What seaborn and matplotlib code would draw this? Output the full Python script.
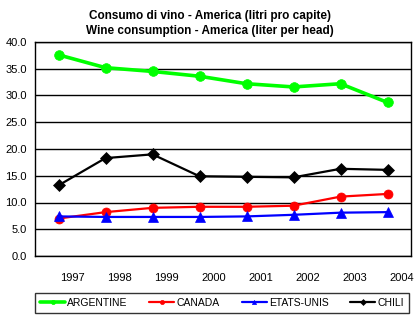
import matplotlib
matplotlib.use("Agg")
import matplotlib.pyplot as plt
import seaborn as sns
import pandas as pd
import numpy as np

years = ["1997", "1998", "1999", "2000", "2001", "2002", "2003", "2004"]
argentine = [37.6, 35.2, 34.5, 33.6, 32.2, 31.6, 32.2, 28.7]
canada = [7.0, 8.2, 9.0, 9.2, 9.2, 9.4, 11.1, 11.6]
etats_unis = [7.4, 7.3, 7.3, 7.3, 7.4, 7.7, 8.1, 8.2]
chili = [13.2, 18.3, 19.0, 14.9, 14.8, 14.7, 16.3, 16.1]

series_names = ["ARGENTINE", "CANADA", "ETATS-UNIS", "CHILI"]
series_vals = [argentine, canada, etats_unis, chili]
colors = ["#00FF00", "#FF0000", "#0000FF", "#000000"]
markers = ["o", "o", "^", "D"]
lws = [2.6, 1.6, 1.6, 1.6]
msizes = [7, 6.5, 7.5, 6]

sns.set_style("white")
plt.rcParams["font.family"] = ["Liberation Sans", "DejaVu Sans"]
plt.rcParams["text.color"] = "black"
plt.rcParams["xtick.color"] = "black"
plt.rcParams["ytick.color"] = "black"

fig = plt.figure(figsize=(4.2, 3.24), dpi=100)
ax = fig.add_axes([35/420, 1-256/324, 376/420, 214/324])

xpos = np.arange(len(years))
for name, vals, c, m, lw, ms in zip(series_names, series_vals, colors, markers, lws, msizes):
    df = pd.DataFrame({"x": xpos, "y": vals})
    sns.lineplot(data=df, x="x", y="y", ax=ax, color=c, marker=m, linewidth=lw,
                 markeredgecolor=c, label=name, legend=False)
    line = ax.lines[-1]
    line.set_markersize(ms)
    line.set_markeredgewidth(0.5)
    line.set_markerfacecolor(c)

ax.set_xlim(-0.5, 7.5)
ax.set_ylim(0, 40)
ax.set_yticks(np.arange(0, 40.1, 5))
ax.set_yticklabels([f"{v:.1f}" for v in np.arange(0, 40.1, 5)], fontsize=8)
ax.yaxis.grid(True, color="black", linewidth=1)
ax.set_axisbelow(True)

ax.set_xticks(np.arange(-0.5, 7.6, 1))
ax.set_xticklabels([])
ax.set_xticks(xpos + 0.3, minor=True)
ax.set_xticklabels(years, minor=True, fontsize=8)
ax.tick_params(axis="x", which="major", direction="out", length=4, width=1, color="black")
ax.tick_params(axis="x", which="minor", length=0, pad=12)
ax.tick_params(axis="y", direction="out", length=4, width=1, color="black", pad=2)
ax.set_xlabel("")
ax.set_ylabel("")
for s in ax.spines.values():
    s.set_color("black")
    s.set_linewidth(1)

fig.text(0.5, 1-16/324, "Consumo di vino - America (litri pro capite)", ha="center", va="center",
         fontsize=8.5, fontweight="bold")
fig.text(0.5, 1-31/324, "Wine consumption - America (liter per head)", ha="center", va="center",
         fontsize=8.5, fontweight="bold")

handles, labels = ax.get_legend_handles_labels()
leg = fig.legend(handles, labels, loc="center", ncol=4, bbox_to_anchor=(222/420, 1-303/324),
                 fontsize=7.5, frameon=True, fancybox=False, edgecolor="black",
                 handlelength=2.4, columnspacing=2.1, borderpad=0.5, handletextpad=0.2)
leg.get_frame().set_linewidth(1)
for h in leg.get_lines():
    h.set_markersize(3)

fig.savefig("out.png", dpi=100)
